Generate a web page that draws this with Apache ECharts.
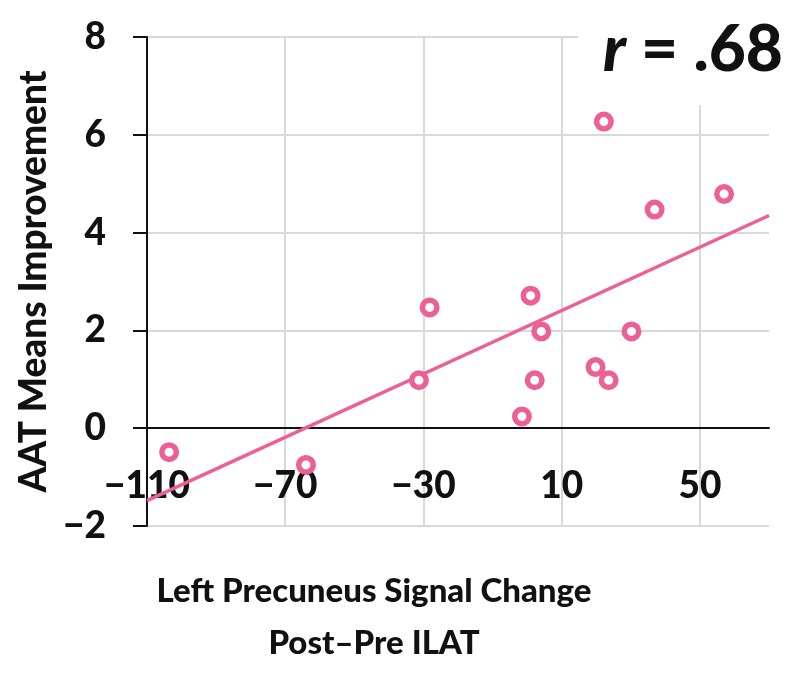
<!DOCTYPE html>
<html>
<head>
<meta charset="utf-8">
<script src="https://cdn.jsdelivr.net/npm/echarts@6/dist/echarts.min.js"></script>
<style>
	html, body { margin: 0; padding: 0; background: #fff; }
	#chart { width: 800px; height: 686px; }
</style>
</head>
<body>
<div id="chart"></div>
<script>
// signal change (x) vs AAT improvement (y)
var signalChange = [-103.6, -64.0, -31.3, -28.2, -1.5, 1.0, 2.2, 4.1, 19.8, 23.6, 22.2, 30.2, 36.9, 57.0];
var aatImprovement = [-0.49, -0.75, 0.98, 2.47, 0.24, 2.71, 0.98, 1.98, 1.25, 0.98, 6.27, 1.98, 4.47, 4.79];
// fitted line endpoints as drawn
var trendX = [-110, 70];
var trendY = [-1.48, 4.35];

var pink = '#ec6096';
var font = 'Lato';
var weight = 900;

var points = signalChange.map(function (x, i) { return [x, aatImprovement[i]]; });
var trend = trendX.map(function (x, i) { return [x, trendY[i]]; });

var chart = echarts.init(document.getElementById('chart'));
var option = {
	animation: false,
	grid: {
		left: 147,
		right: 31,
		top: 37,
		bottom: 160
	},
	xAxis: {
		type: 'value',
		min: -110,
		max: 70,
		interval: 40,
		axisLine: {
			onZero: true,
			lineStyle: { color: '#111', width: 2 }
		},
		axisTick: { show: false },
		axisLabel: {
			// labels sit just under the zero line, not under the grid
			margin: -58,
			fontFamily: font,
			fontWeight: weight,
			fontSize: 37,
			color: '#111',
			showMaxLabel: false,
			formatter: function (v) { return String(v).replace('-', '\u2212'); }
		},
		splitLine: {
			show: true,
			showMinLine: false,
			showMaxLine: false,
			lineStyle: { color: '#d9d9d9', width: 2 }
		}
	},
	yAxis: {
		type: 'value',
		min: -2,
		max: 8,
		interval: 2,
		name: 'AAT Means Improvement',
		nameLocation: 'middle',
		nameGap: 91,
		nameTextStyle: {
			fontFamily: font,
			fontWeight: weight,
			fontSize: 37,
			color: '#111'
		},
		axisLine: {
			show: true,
			onZero: false,
			lineStyle: { color: '#111', width: 2 }
		},
		axisTick: {
			show: true,
			length: 14,
			lineStyle: { color: '#111', width: 2 }
		},
		axisLabel: {
			margin: 41,
			fontFamily: font,
			fontWeight: weight,
			fontSize: 37,
			color: '#111',
			formatter: function (v) { return String(v).replace('-', '\u2212'); }
		},
		splitLine: {
			show: true,
			lineStyle: { color: '#d9d9d9', width: 2 }
		}
	},
	graphic: [
		{
			type: 'rect',
			left: 578,
			top: 0,
			shape: { width: 222, height: 105 },
			style: { fill: '#fff' },
			z: 10
		},
		{
			type: 'text',
			left: 603,
			top: 18,
			z: 11,
			style: {
				text: '{i|r} = .68',
				fontFamily: font,
				fontWeight: weight,
				fontSize: 64,
				fill: '#111',
				rich: {
					i: { fontStyle: 'italic', fontFamily: font, fontWeight: weight, fontSize: 64, color: '#111' }
				}
			}
		},
		{
			type: 'text',
			x: 374,
			y: 565,
			style: {
				text: 'Left Precuneus Signal Change\nPost\u2013Pre ILAT',
				align: 'center',
				verticalAlign: 'top',
				lineHeight: 52,
				fontFamily: font,
				fontWeight: weight,
				fontSize: 33,
				fill: '#111'
			}
		}
	],
	series: [
		{
			name: 'Trend',
			type: 'line',
			data: trend,
			symbol: 'none',
			lineStyle: { color: pink, width: 3.5 },
			z: 3
		},
		{
			name: 'Participants',
			type: 'scatter',
			data: points,
			symbol: 'circle',
			symbolSize: 14.5,
			itemStyle: {
				color: '#fff',
				borderColor: pink,
				borderWidth: 5.5,
				opacity: 1
			},
			z: 4
		}
	]
};

chart.setOption(option);
</script>
</body>
</html>
